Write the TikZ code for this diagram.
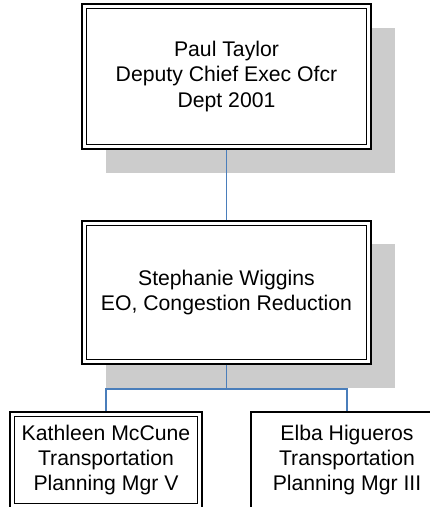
\documentclass[tikz,border=0pt]{standalone}
\usepackage{fontspec}
\setmainfont{Liberation Sans}
\definecolor{conn}{RGB}{74,126,187}
\definecolor{shade}{RGB}{204,204,204}
\tikzset{
  orgbox/.style={draw=black, line width=1.1pt, fill=white, inner sep=0pt, align=center,
    font=\fontsize{21.2}{25.2}\selectfont},
  shadowbox/.style={fill=shade, draw=none},
  innerline/.style={draw=black, line width=1.8pt},
  singlebox/.style={draw=black, line width=2pt, fill=white, inner sep=0pt, align=center,
    font=\fontsize{21.2}{25.2}\selectfont},
  link/.style={draw=conn, line width=1.3pt}
}
\begin{document}
\begin{tikzpicture}[x=1pt,y=-1pt]
\useasboundingbox (0,0) rectangle (430,507);
\clip (0,0) rectangle (430,507);
\fill[white] (0,0) rectangle (430,507);
% shadows
\fill[shadowbox] (106,28) rectangle (395,173);
\fill[shadowbox] (106,244) rectangle (395,388);
% boxes
\node[orgbox, minimum width=289pt, minimum height=145pt] (pt) at (226.5,76.5)
  {Paul Taylor\\Deputy Chief Exec Ofcr\\Dept 2001};
\draw[innerline] ([xshift=5pt,yshift=-5pt]pt.north west) rectangle ([xshift=-5pt,yshift=5pt]pt.south east);
\node[orgbox, minimum width=289pt, minimum height=143pt] (sw) at (226.5,292.5)
  {Stephanie Wiggins\\EO, Congestion Reduction};
\draw[innerline] ([xshift=5pt,yshift=-5pt]sw.north west) rectangle ([xshift=-5pt,yshift=5pt]sw.south east);
\node[orgbox, minimum width=192pt, minimum height=96pt] (km) at (106,460)
  {Kathleen McCune\\Transportation\\Planning Mgr V};
\draw[innerline] ([xshift=5pt,yshift=-5pt]km.north west) rectangle ([xshift=-5pt,yshift=5pt]km.south east);
\node[singlebox, minimum width=192pt, minimum height=96pt] (eh) at (347,460)
  {Elba Higueros\\Transportation\\Planning Mgr III};
% connectors
\coordinate (bus) at (226.5,389);
\draw[link] (pt.south) -- (sw.north);
\draw[link] (sw.south) -- (bus);
\draw[link] (bus) -| (km.north);
\draw[link] (bus) -| (eh.north);
\end{tikzpicture}
\end{document}
